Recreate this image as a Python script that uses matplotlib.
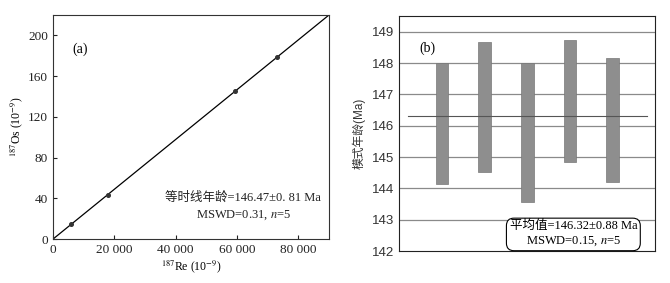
import numpy as np
import matplotlib
matplotlib.use('Agg')
from matplotlib import pyplot as plt

plt.rcParams['mathtext.fontset'] = 'stix'

# (a) isochron data
re187 = [6000, 18000, 59300, 73200]
os187 = [14.5, 43.5, 145.0, 179.0]
iso_x = [0, 90000]
iso_y = [0, 220]

# (b) model ages (bars: low, high)
ages_lo = [144.15, 144.52, 143.55, 144.83, 144.20]
ages_hi = [148.00, 148.68, 148.00, 148.74, 148.17]
mean_age = 146.32

SERIF = ['Liberation Serif', 'Noto Sans CJK SC']
SANS = ['Liberation Sans', 'Noto Sans CJK SC']

fig = plt.figure(figsize=(6.7, 2.83), dpi=100)

# ---- panel (a)
ax1 = fig.add_axes([0.079, 0.155, 0.412, 0.792])
ax1.plot(iso_x, iso_y, color='black', lw=0.9)
ax1.plot(re187, os187, 'o', color='#333333', ms=2.6)
ax1.set_xlim(0, 90000)
ax1.set_ylim(0, 220)
ax1.set_xticks([0, 20000, 40000, 60000, 80000])
ax1.set_xticklabels(['0', '20 000', '40 000', '60 000', '80 000'])
ax1.set_yticks([0, 40, 80, 120, 160, 200])
ax1.tick_params(direction='in', length=3, labelsize=9.5, colors='#222222')
for lab in ax1.get_xticklabels() + ax1.get_yticklabels():
    lab.set_family(SERIF)
ax1.set_xlabel(r'$^{187}$Re (10$^{-9}$)', family=SERIF, fontsize=8.5, labelpad=2)
ax1.set_ylabel(r'$^{187}$Os (10$^{-9}$)', family=SERIF, fontsize=8.5, labelpad=2)
ax1.text(0.07, 0.83, '(a)', transform=ax1.transAxes, family=SERIF, fontsize=10)
ax1.text(0.69, 0.185, '等时线年龄=146.47±0. 81 Ma', transform=ax1.transAxes,
         family=SERIF, fontsize=9, ha='center', va='center', color='#222222')
ax1.text(0.69, 0.105, r'MSWD=0.31, $n$=5', transform=ax1.transAxes,
         family=SERIF, fontsize=9, ha='center', va='center', color='#222222')
for s in ax1.spines.values():
    s.set_color('#333333')

# ---- panel (b)
ax2 = fig.add_axes([0.596, 0.113, 0.382, 0.83])
pos = np.arange(1, len(ages_lo) + 1)
ax2.set_ylim(142, 149.5)
ax2.set_xlim(0, 6)
ax2.set_yticks(range(142, 150))
for y in range(143, 150):
    ax2.axhline(y, color='#8a8a8a', lw=0.9, zorder=0)
ax2.bar(pos, np.array(ages_hi) - np.array(ages_lo), bottom=ages_lo, width=0.3,
        color='#8e8e8e', edgecolor='#777777', lw=0.5, zorder=2)
ax2.plot([0.21, 5.8], [mean_age, mean_age], color='#555555', lw=0.8, zorder=3)
ax2.set_xticks([])
ax2.tick_params(axis='y', length=0, labelsize=9.5, colors='#333333', pad=4)
for lab in ax2.get_yticklabels():
    lab.set_family(SANS)
ax2.set_ylabel('模式年龄(Ma)', family=SANS, fontsize=8.5, color='#333333', labelpad=4)
ax2.text(0.08, 0.85, '(b)', transform=ax2.transAxes, family=SERIF, fontsize=10)
ax2.text(4.08, 142.55, '平均值=146.32±0.88 Ma\nMSWD=0.15, $n$=5', family=SERIF,
         fontsize=9, ha='center', va='center', linespacing=1.2, zorder=4,
         bbox=dict(boxstyle='round,pad=0.25,rounding_size=0.6', fc='white', ec='black', lw=0.8))
for s in ax2.spines.values():
    s.set_color('#222222')

fig.savefig('out.png', dpi=100)
